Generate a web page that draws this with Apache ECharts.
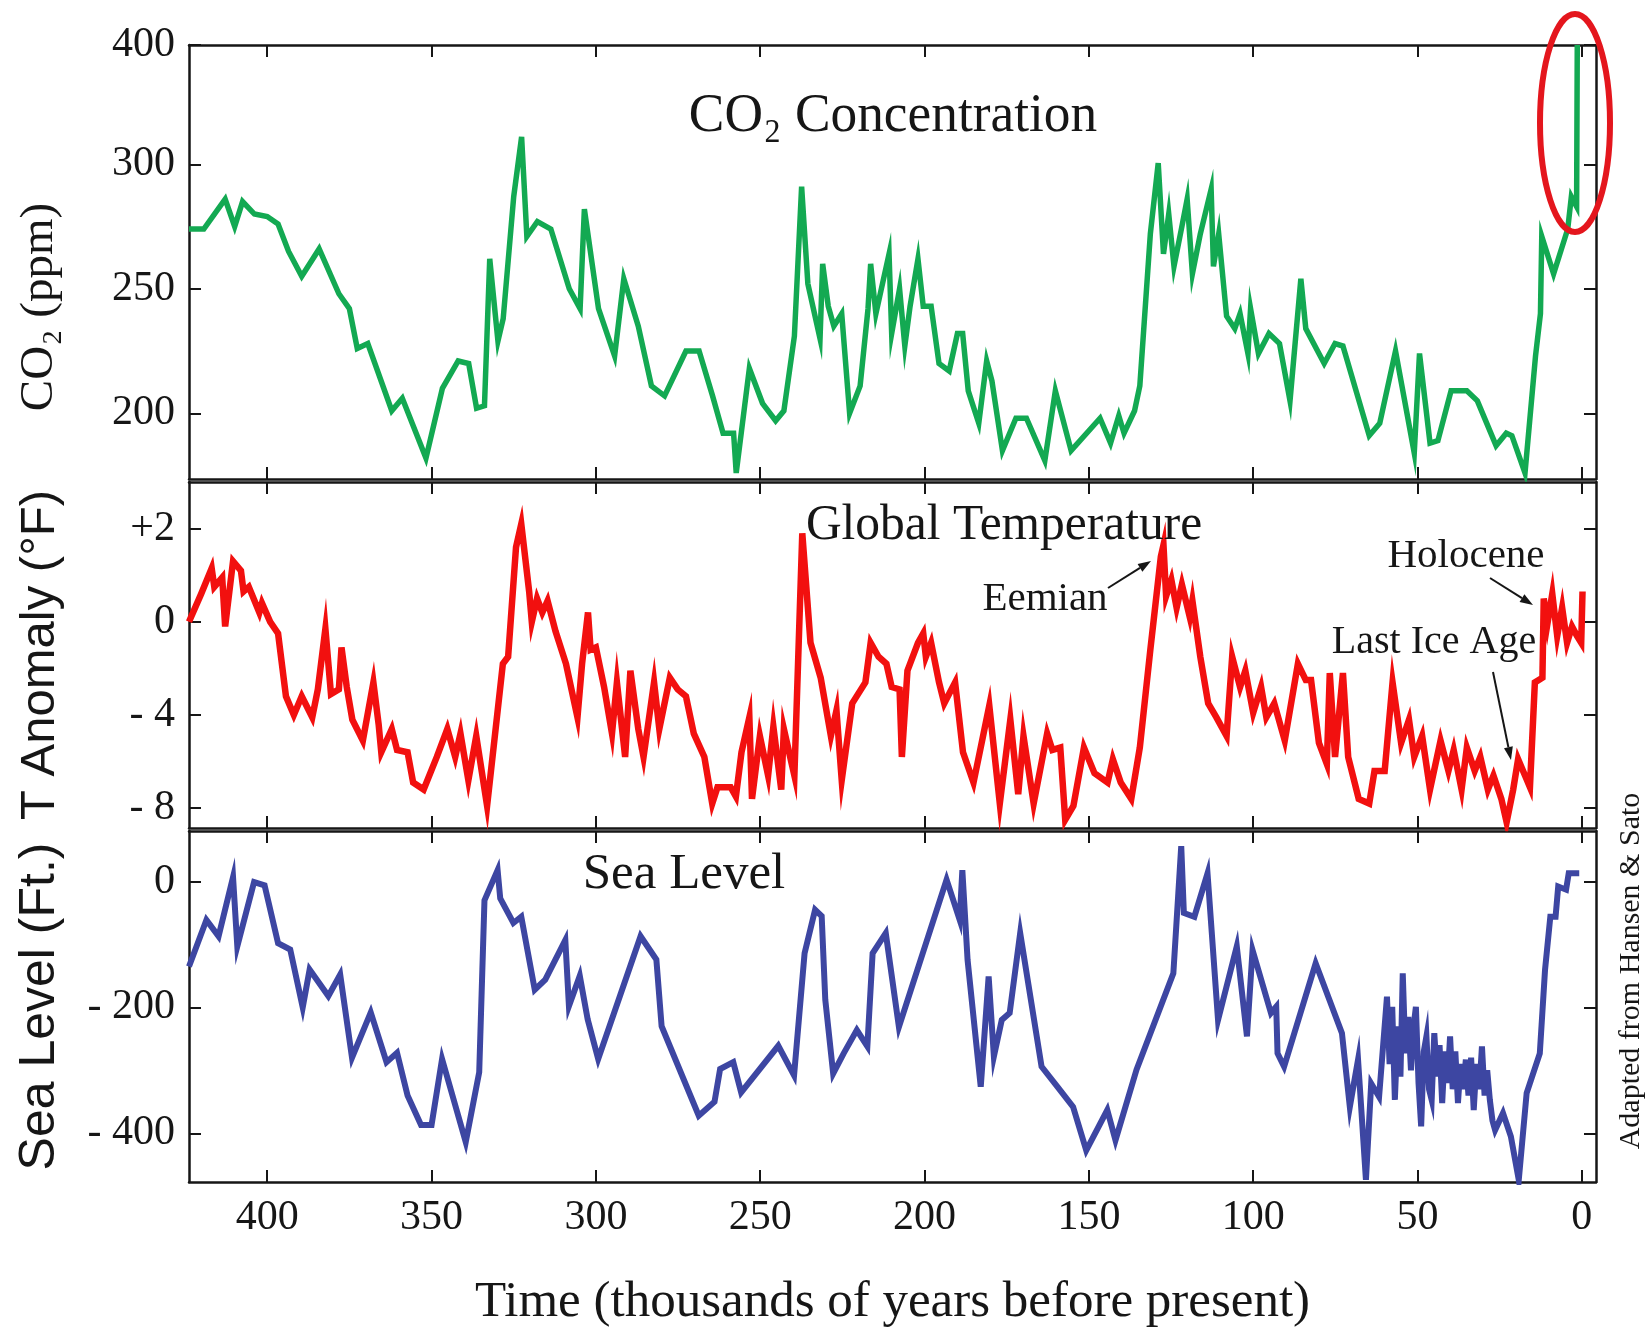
<!DOCTYPE html>
<html>
<head>
<meta charset="utf-8">
<script src="https://cdn.jsdelivr.net/npm/echarts@6/dist/echarts.min.js"></script>
<style>
html,body{margin:0;padding:0;background:#fff;overflow:hidden}
#chart{width:1647px;height:1332px}
</style>
</head>
<body>
<div id="chart"></div>
<script>
// ---------- data (thousands of years before present) ----------
const ageTicks = [0, 50, 100, 150, 200, 250, 300, 350, 400];
const co2TickValues = [200, 250, 300, 400];
const tempTickValues = [2, 0, -4, -8];
const seaTickValues = [0, -200, -400];

const co2Age = [423.8,419.3,412.8,409.9,407.5,403.9,400.0,396.7,393.5,389.5,384.2,378.2,375.0,372.6,369.4,362.1,358.9,351.7,346.7,341.9,338.7,336.3,333.9,332.3,329.8,328.2,325.0,322.6,321.0,317.8,313.7,308.1,304.8,303.5,299.2,294.3,291.5,287.1,283.1,279.1,272.6,268.6,264.5,261.3,258.1,257.3,253.3,249.3,245.3,242.8,239.6,237.4,235.5,231.8,231.0,229.3,227.6,225.2,222.8,219.6,217.2,216.4,214.8,210.8,210.0,207.6,206.0,204.4,202.0,200.4,198.0,195.6,192.5,190.0,188.4,186.7,183.5,181.1,179.5,176.3,172.2,169.0,163.4,160.2,155.4,146.6,143.4,140.9,139.3,136.1,134.5,131.3,128.9,127.3,125.7,124.1,121.7,120.1,118.5,116.1,112.8,112.1,110.5,108.1,105.6,104.0,101.6,100.8,98.4,95.2,92.0,88.8,85.5,84.0,78.4,75.1,72.7,64.7,61.5,56.7,51.0,49.4,46.2,43.8,39.8,35.0,31.8,26.1,23.0,21.3,17.3,14.1,12.6,12.2,8.6,4.3,3.2,1.6,1.4];
const co2Ppm = [274,274,286,275,285,280,279,276,265,255,266,248,242,226,228,201,206,182,210,221,220,202,203,262,229,238,287,323,271,277,274,250,242,282,242,223,254,235,211,207,225,225,207,192,192,176,218,204,197,201,231,291,252,230,260,243,235,240,200,211,242,260,240,264,232,250,227,243,262,243,243,220,217,232,232,209,196,221,213,185,198,198,181,209,185,198,188,199,192,201,211,272,301,264,280,259,275,286,256,272,290,259,272,239,234,240,224,242,224,232,228,205,254,234,220,228,227,191,196,225,184,224,188,189,209,209,205,187,192,191,176,223,240,271,256,274,287,283,400];

const tempAge = [423.8,420.1,416.9,416.1,413.7,412.8,410.4,408.0,407.2,405.6,402.4,401.6,399.1,396.7,394.3,391.9,389.5,386.3,384.6,382.3,380.6,378.2,377.4,375.8,374.1,370.9,367.7,366.1,365.3,362.1,360.5,357.3,355.6,352.4,348.4,345.2,342.8,341.2,338.8,336.4,333.1,328.3,326.7,324.3,322.7,320.3,319.5,317.9,316.3,314.7,312.3,309.1,305.6,304.2,302.4,301.6,300.0,297.5,295.1,293.6,291.1,289.5,287.1,285.5,282.3,280.7,277.5,275.1,272.6,270.2,267.0,264.6,263.0,259.0,257.4,255.7,253.3,252.5,250.1,247.6,246.0,243.6,242.8,240.4,239.6,237.2,234.7,231.6,228.5,226.8,225.2,222.0,218.0,216.4,214.0,211.6,210.0,207.6,206.9,205.2,202.0,200.4,199.6,198.0,195.6,194.0,190.7,188.3,185.1,180.3,177.1,173.9,171.5,169.9,166.8,162.7,161.1,158.7,157.2,154.7,151.5,148.3,144.3,142.7,140.3,137.1,134.5,131.3,128.1,127.3,126.5,124.9,123.3,121.7,119.3,118.5,116.1,113.7,111.2,108.1,106.4,104.0,102.4,100.0,97.6,96.0,93.6,90.4,86.4,84.0,82.4,80.0,77.6,76.7,75.1,72.7,71.1,67.9,64.7,63.1,60.0,57.6,55.0,52.6,51.0,48.6,46.2,43.0,40.6,39.0,36.6,35.0,32.6,30.9,28.6,26.9,24.5,22.9,20.9,19.4,17.3,15.8,14.3,12.0,11.6,10.5,9.0,7.5,6.0,4.5,3.0,1.5,0.2,-0.2];
const tempF = [0,0.6,1.15,0.75,0.95,-0.2,1.3,1.1,0.65,0.75,0.2,0.4,0,-0.5,-3.2,-4.0,-3.2,-4.1,-2.9,-0.3,-3.1,-2.9,-1.1,-2.8,-4.2,-5.1,-2.6,-4.4,-5.6,-4.6,-5.5,-5.6,-6.9,-7.2,-5.8,-4.6,-5.8,-4.8,-6.8,-4.9,-7.9,-1.8,-1.5,1.6,2.1,0.65,0,0.5,0.2,0.45,-0.4,-1.8,-4.1,-1.8,0.2,-1.2,-1.1,-2.8,-4.8,-2.6,-5.8,-2.1,-4.6,-5.8,-2.6,-4.6,-2.4,-2.9,-3.2,-4.8,-5.8,-7.8,-7.1,-7.1,-7.5,-5.6,-4.1,-7.6,-4.9,-6.6,-4.5,-7.2,-4.6,-6.1,-6.6,1.9,-0.9,-2.4,-4.9,-3.8,-6.8,-3.5,-2.6,-0.9,-1.5,-1.8,-2.8,-2.9,-5.8,-2.1,-0.9,-0.5,-1.5,-0.9,-2.6,-3.5,-2.6,-5.6,-6.9,-3.6,-7.8,-4.2,-7.4,-4.9,-7.8,-4.8,-5.5,-5.4,-8.5,-7.9,-5.4,-6.5,-6.9,-5.9,-6.9,-7.6,-5.4,-1.2,1.4,1.65,0.55,0.9,0.3,0.8,0.1,0.45,-1.5,-3.5,-4.1,-4.9,-1.5,-2.8,-2.1,-3.9,-2.8,-4.1,-3.5,-5.1,-1.8,-2.5,-2.5,-5.2,-6.1,-2.2,-5.8,-2.2,-5.8,-7.6,-7.8,-6.4,-6.4,-2.6,-5.2,-4.2,-5.8,-4.9,-7.2,-5.1,-6.4,-5.5,-7.2,-5.4,-6.4,-5.8,-7.2,-6.6,-7.6,-8.6,-7.2,-5.9,-6.6,-7.1,-2.6,-2.4,0.5,-0.1,0.6,-0.6,0.3,-0.9,-0.2,-0.6,-0.9,0.65];

const seaAge = [423.8,418.5,414.8,410.4,409.1,404.0,400.8,396.7,393.0,389.2,387.1,381.4,377.8,374.2,368.5,363.7,360.5,357.3,353.2,350.0,346.8,339.6,335.5,333.9,329.9,329.1,325.1,322.7,318.6,315.4,309.3,308.2,304.9,302.5,299.3,286.4,281.6,280.0,268.7,263.9,262.2,258.2,255.8,244.5,239.7,236.5,233.3,231.3,230.2,227.8,224.6,220.6,217.4,215.8,211.8,207.8,193.3,189.3,188.5,186.9,182.9,180.5,178.9,176.5,174.1,170.9,164.4,159.6,154.8,150.8,144.4,141.9,135.5,124.3,121.9,121.1,117.9,113.9,110.7,105.0,101.9,100.2,94.6,93.0,92.6,90.6,81.0,73.0,70.6,68.1,65.7,64.1,61.7,59.3,58.5,57.7,56.9,56.0,55.2,54.5,53.7,52.8,52.0,51.2,50.5,49.7,48.9,48.1,47.3,46.5,45.7,44.9,44.1,43.3,42.5,41.7,40.9,40.1,39.3,38.5,37.7,36.9,36.1,35.3,34.5,33.7,32.9,32.1,31.2,30.4,29.6,28.8,28.0,27.2,26.4,24.0,21.6,19.2,16.8,12.8,11.2,9.6,8.0,7.2,4.8,4.0,0.8];
const seaFt = [-135,-61,-87,7,-103,-1,-6,-98,-108,-200,-140,-182,-148,-280,-208,-287,-272,-340,-387,-387,-282,-414,-303,-30,18,-27,-66,-56,-172,-156,-93,-198,-150,-219,-282,-87,-124,-230,-372,-350,-298,-287,-335,-261,-308,-114,-45,-55,-188,-305,-273,-236,-262,-114,-82,-231,3,-61,18,-125,-326,-151,-278,-220,-209,-82,-294,-326,-358,-427,-363,-411,-299,-146,56,-50,-56,13,-220,-103,-246,-109,-209,-199,-273,-294,-130,-241,-358,-283,-474,-321,-342,-183,-290,-199,-347,-230,-310,-146,-273,-215,-300,-230,-199,-320,-389,-270,-246,-330,-347,-241,-310,-260,-352,-270,-320,-246,-330,-270,-352,-290,-330,-283,-340,-280,-363,-290,-330,-262,-340,-300,-347,-380,-395,-368,-405,-474,-336,-273,-140,-56,-56,-8,-13,13,13];

// ---------- printed (broken) axis scales ----------
// CO2 axis: above 300 ppm the printed scale is compressed (300 -> 400 in a short span)
const CO2_BREAK = 300, CO2_K = 0.479;
const co2Axis = v => v > CO2_BREAK ? CO2_BREAK + (v - CO2_BREAK) * CO2_K : v;
const co2Label = a => a > CO2_BREAK + 1e-6 ? Math.round(CO2_BREAK + (a - CO2_BREAK) / CO2_K) : Math.round(a);
// Temperature axis: +2 sits one full tick step above 0 (positive side doubled)
const tempAxis = v => v > 0 ? v * 2 : v;
const tempLabel = a => a > 0 ? '+' + (a / 2) : (a === 0 ? '0' : '- ' + (-a));
const seaLabel = a => a < 0 ? '- ' + (-a) : String(a);

const GREEN = '#13a952', RED = '#f2100f', BLUE = '#3d46a2';
const SERIF = '"Liberation Serif", "Times New Roman", serif';
const SANS = '"Liberation Sans", Arial, sans-serif';
const INK = '#161616';
const LINE = {color: INK, width: 2.5};

const X_MIN = -4.3, X_MAX = 423.8;
const grids = [
  {left: 189, right: 51, top: 45, height: 434},
  {left: 189, right: 51, top: 482, height: 346},
  {left: 189, right: 51, top: 831, height: 351}
];

function xPair(gi, withLabels) {
  const base = {
    type: 'value', gridIndex: gi, inverse: true, min: X_MIN, max: X_MAX,
    axisLine: {show: true, onZero: false, lineStyle: LINE},
    axisTick: {show: true, inside: true, length: 12, customValues: ageTicks, lineStyle: {color: INK, width: 2}},
    splitLine: {show: false}
  };
  const bottom = Object.assign({}, base, {
    position: 'bottom',
    axisLabel: withLabels ? {show: true, customValues: ageTicks, margin: 15, fontFamily: SERIF, fontSize: 42, color: INK,
      formatter: v => String(Math.round(v))} : {show: false}
  });
  if (withLabels) {
    Object.assign(bottom, {
      name: 'Time (thousands of years before present)', nameLocation: 'middle', nameGap: 95,
      nameTextStyle: {fontFamily: SERIF, fontSize: 51, color: INK}
    });
  }
  const top = Object.assign({}, base, {position: 'top', axisLabel: {show: false}});
  return [bottom, top];
}

function yPair(gi, min, max, ticks, fmt, name, nameFont, nameSize, nameStyleExtra) {
  const base = {
    type: 'value', gridIndex: gi, min: min, max: max,
    axisLine: {show: true, onZero: false, lineStyle: LINE},
    axisTick: {show: true, inside: true, length: 12, customValues: ticks, lineStyle: {color: INK, width: 2}},
    splitLine: {show: false}
  };
  const left = Object.assign({}, base, {
    position: 'left',
    axisLabel: {show: true, customValues: ticks, margin: 14, fontFamily: SERIF, fontSize: 42, color: INK, formatter: fmt},
    name: name, nameLocation: 'middle', nameGap: 149 - nameSize / 2,
    nameTextStyle: Object.assign({fontFamily: nameFont, fontSize: nameSize, color: INK}, nameStyleExtra || {})
  });
  const right = Object.assign({}, base, {position: 'right', axisLabel: {show: false}});
  return [left, right];
}

const co2Ticks = co2TickValues.map(co2Axis);
const tempTicks = tempTickValues.map(tempAxis);

const xAxes = [].concat(xPair(0, false), xPair(1, false), xPair(2, true));
const yAxes = [].concat(
  yPair(0, 173.6, co2Axis(400), co2Ticks, v => String(co2Label(v)), 'CO₂ (ppm)', SERIF, 47, {padding: [0, 90, 0, 0]}),
  yPair(1, -8.85, 6.0, tempTicks, v => tempLabel(Math.round(v * 100) / 100), 'T Anomaly (°F)', SANS, 49),
  yPair(2, -477.4, 80.2, seaTickValues, v => seaLabel(Math.round(v)), 'Sea Level (Ft.)', SANS, 50)
);

function lineSeries(name, xi, yi, data, color, width) {
  return {
    type: 'line', name: name, xAxisIndex: xi, yAxisIndex: yi, data: data,
    showSymbol: false, symbol: 'none', clip: true, silent: true, animation: false,
    lineStyle: {color: color, width: width, join: 'miter', miterLimit: 10, cap: 'butt'}
  };
}

function text(str, x, y, size, family, extra) {
  return Object.assign({
    type: 'text', x: x, y: y, z: 100,
    style: {text: str, fontSize: size, fontFamily: family, fill: INK,
      align: 'center', textAlign: 'center', verticalAlign: 'middle', textVerticalAlign: 'middle'}
  }, extra || {});
}
function arrow(x1, y1, x2, y2) {
  const ang = Math.atan2(y2 - y1, x2 - x1), L = 13, W = 4.5;
  const bx = x2 - L * Math.cos(ang), by = y2 - L * Math.sin(ang);
  const px = -Math.sin(ang) * W, py = Math.cos(ang) * W;
  return [
    {type: 'line', z: 100, shape: {x1: x1, y1: y1, x2: bx, y2: by}, style: {stroke: INK, lineWidth: 2}},
    {type: 'polygon', z: 100, shape: {points: [[x2, y2], [bx + px, by + py], [bx - px, by - py]]}, style: {fill: INK}}
  ];
}

const graphics = [
  text('CO₂ Concentration', 893, 117, 55, SERIF, {scaleX: 0.97}),
  text('Global Temperature', 1004, 526, 51, SERIF, {scaleX: 0.97}),
  text('Eemian', 1045, 599, 41, SERIF),
  text('Holocene', 1466, 556, 41, SERIF),
  text('Last Ice Age', 1434, 642, 40, SERIF),
  text('Sea Level', 684, 875, 51, SERIF),
  text('Adapted from Hansen & Sato', 1631, 971, 30, SERIF, {rotation: Math.PI / 2}),
  {type: 'ellipse', z: 100, shape: {cx: 1575, cy: 123, rx: 35, ry: 109}, style: {fill: 'none', stroke: '#e4161d', lineWidth: 6}}
].concat(arrow(1108, 588, 1151, 561), arrow(1490, 578, 1533, 605), arrow(1493, 672, 1511, 760));

const chart = echarts.init(document.getElementById('chart'), null, {renderer: 'canvas'});
chart.setOption({
  animation: false,
  backgroundColor: '#ffffff',
  grid: grids.map(g => Object.assign({containLabel: false, outerBoundsMode: 'none'}, g)),
  xAxis: xAxes,
  yAxis: yAxes,
  series: [
    lineSeries('CO₂', 0, 0, co2Age.map((a, i) => [a, co2Axis(co2Ppm[i])]), GREEN, 5.5),
    lineSeries('Temperature', 2, 2, tempAge.map((a, i) => [a, tempAxis(tempF[i])]), RED, 6.5),
    lineSeries('Sea Level', 4, 4, seaAge.map((a, i) => [a, seaFt[i]]), BLUE, 6)
  ],
  graphic: graphics
});
</script>
</body>
</html>
